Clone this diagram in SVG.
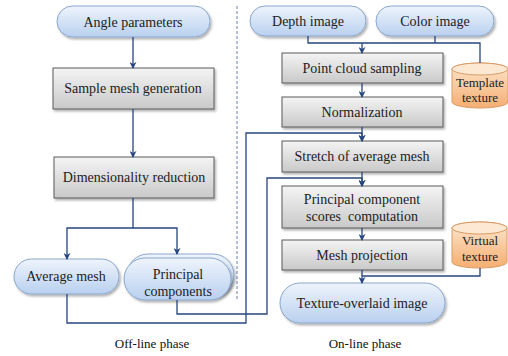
<svg xmlns="http://www.w3.org/2000/svg" width="508" height="356" viewBox="0 0 508 356">
<defs>
<linearGradient id="gBox" x1="0" y1="0" x2="0" y2="1">
<stop offset="0" stop-color="#f4f4f4"/>
<stop offset="1" stop-color="#c9c9c9"/>
</linearGradient>
<linearGradient id="gBlue" x1="0" y1="0" x2="0" y2="1">
<stop offset="0" stop-color="#eef4fc"/>
<stop offset="1" stop-color="#b9d0ef"/>
</linearGradient>
<linearGradient id="gOrange" x1="0" y1="0" x2="0" y2="1">
<stop offset="0" stop-color="#fde6cc"/>
<stop offset="1" stop-color="#f5ae72"/>
</linearGradient>
<marker id="arr" viewBox="0 0 8 8" refX="7" refY="4" markerWidth="7" markerHeight="7" markerUnits="userSpaceOnUse" orient="auto">
<path d="M0,0 L8,4 L0,8 L2.5,4 Z" fill="#27467f"/>
</marker>
<filter id="sh" x="-10%" y="-10%" width="130%" height="140%">
<feDropShadow dx="1.5" dy="2" stdDeviation="1.2" flood-color="#000" flood-opacity="0.3"/>
</filter>
</defs>
<style>
text{font-family:"Times New Roman",Times,"Liberation Serif","DejaVu Serif","Noto Serif",serif;font-size:14px;fill:#222;text-anchor:middle}
.box{fill:url(#gBox);stroke:#5a5a5a;stroke-width:1;filter:url(#sh)}
.pill{fill:url(#gBlue);stroke:#8aa6cc;stroke-width:1;filter:url(#sh)}
.cyl{fill:url(#gOrange);stroke:#d99c66;stroke-width:1}
.cyltop{fill:#fde9d3;stroke:#d99c66;stroke-width:1}
.ln{fill:none;stroke:#27467f;stroke-width:1.3}
.small{font-size:13px}
.cap{font-size:13px;fill:#111}
</style>

<line x1="237" y1="6" x2="237" y2="300" stroke="#9aaccc" stroke-width="1.5" stroke-dasharray="3,2"/>

<g id="angle-parameters">
<rect class="pill" x="57" y="6" width="153" height="31" rx="15.5"/>
<text x="133" y="27">Angle parameters</text>
</g>
<g id="sample-mesh-generation">
<rect class="box" x="53" y="68" width="161" height="41"/>
<text x="133" y="93">Sample mesh generation</text>
</g>
<g id="dimensionality-reduction">
<rect class="box" x="54" y="157" width="160" height="41"/>
<text x="134" y="182">Dimensionality reduction</text>
</g>
<g id="average-mesh">
<rect class="pill" x="14" y="259" width="105" height="35" rx="17.5"/>
<text x="66" y="281">Average mesh</text>
</g>
<g id="principal-components">
<rect class="pill" x="127" y="254" width="107" height="42" rx="21"/>
<rect class="pill" x="124" y="258" width="107" height="42" rx="21"/>
<text x="178" y="279">Principal</text>
<text x="178" y="296">components</text>
</g>

<g id="depth-image">
<rect class="pill" x="250" y="6" width="116" height="30" rx="15"/>
<text x="308" y="26">Depth image</text>
</g>
<g id="color-image">
<rect class="pill" x="376" y="6" width="118" height="30" rx="15"/>
<text x="435" y="26">Color image</text>
</g>
<g id="point-cloud-sampling">
<rect class="box" x="282" y="53" width="161" height="30"/>
<text x="362" y="73">Point cloud sampling</text>
</g>
<g id="normalization">
<rect class="box" x="282" y="97" width="161" height="30"/>
<text x="362" y="117">Normalization</text>
</g>
<g id="stretch-of-average-mesh">
<rect class="box" x="282" y="141" width="161" height="31"/>
<text x="362" y="161">Stretch of average mesh</text>
</g>
<g id="pc-scores-computation">
<rect class="box" x="282" y="186" width="161" height="42"/>
<text x="362" y="204">Principal component</text>
<text x="362" y="221" style="white-space:pre">scores  computation</text>
</g>
<g id="mesh-projection">
<rect class="box" x="282" y="240" width="161" height="30"/>
<text x="362" y="260">Mesh projection</text>
</g>
<g id="texture-overlaid-image">
<rect class="pill" x="280" y="283" width="165" height="40" rx="20"/>
<text x="362" y="308">Texture-overlaid image</text>
</g>
<g id="template-texture">
<path class="cyl" d="M452,69 A28,6 0 0 1 508,69 L508,102 A28,6 0 0 1 452,102 Z"/>
<ellipse class="cyltop" cx="480" cy="69" rx="28" ry="6"/>
<text class="small" x="480" y="87">Template</text>
<text class="small" x="480" y="102">texture</text>
</g>
<g id="virtual-texture">
<path class="cyl" d="M452,228 A27.5,6 0 0 1 507,228 L507,262 A27.5,6 0 0 1 452,262 Z"/>
<ellipse class="cyltop" cx="479.5" cy="228" rx="27.5" ry="6"/>
<text class="small" x="480" y="245">Virtual</text>
<text class="small" x="480" y="261">texture</text>
</g>

<g id="connectors">
<path class="ln" d="M133,37 V68" marker-end="url(#arr)"/>
<path class="ln" d="M133,109 V157" marker-end="url(#arr)"/>
<path class="ln" d="M133,198 V228 H67 V259" marker-end="url(#arr)"/>
<path class="ln" d="M133,228 H177 V254" marker-end="url(#arr)"/>
<path class="ln" d="M67,294 V323 H246 V133 H362 V141" marker-end="url(#arr)"/>
<path class="ln" d="M177,300 V314 H267 V178 H362 V186" marker-end="url(#arr)"/>
<path class="ln" d="M308,36 V43 H480 V63"/>
<path class="ln" d="M435,36 V43"/>
<path class="ln" d="M362,43 V53" marker-end="url(#arr)"/>
<path class="ln" d="M362,83 V97" marker-end="url(#arr)"/>
<path class="ln" d="M362,127 V141" marker-end="url(#arr)"/>
<path class="ln" d="M362,172 V186" marker-end="url(#arr)"/>
<path class="ln" d="M362,228 V240" marker-end="url(#arr)"/>
<path class="ln" d="M362,270 V283" marker-end="url(#arr)"/>
<path class="ln" d="M480,268 V276 H362"/>
</g>

<text class="cap" x="152" y="348">Off-line phase</text>
<text class="cap" x="365" y="348">On-line phase</text>
</svg>
